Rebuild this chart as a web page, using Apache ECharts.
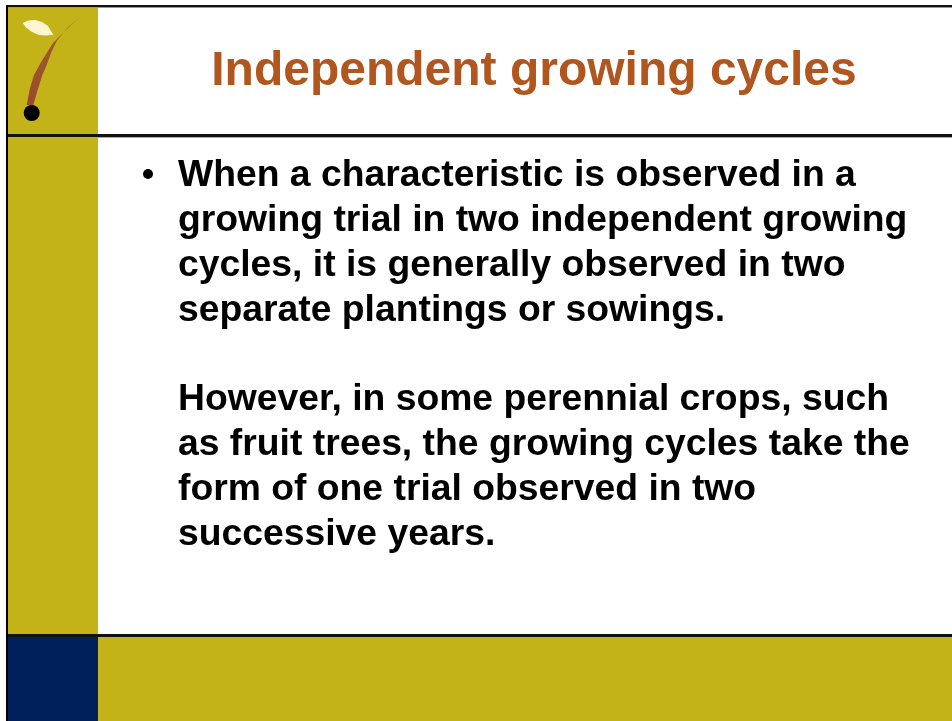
<!DOCTYPE html>
<html><head><meta charset="utf-8">
<script src="https://cdn.jsdelivr.net/npm/echarts@6/dist/echarts.min.js"></script>
<style>html,body{margin:0;padding:0;background:#fff}#c{width:952px;height:721px}</style>
</head><body><div id="c"></div>
<script>
const titleText = 'Independent growing cycles';
const paragraph1 = [
  'When a characteristic is observed in a',
  'growing trial in two independent growing',
  'cycles, it is generally observed in two',
  'separate plantings or sowings.'
];
const paragraph2 = [
  'However, in some perennial crops, such',
  'as fruit trees, the growing cycles take the',
  'form of one trial observed in two',
  'successive years.'
];
const OLIVE = '#C4B318', NAVY = '#00205B', RUST = '#B0561E';
const FAMILY = 'Liberation Sans';
const chart = echarts.init(document.getElementById('c'), null, {renderer: 'canvas'});
const g = [];
g.push({type:'rect', shape:{x:8,y:7,width:90,height:628}, style:{fill:OLIVE}});
g.push({type:'rect', shape:{x:8,y:636,width:90,height:85}, style:{fill:NAVY}});
g.push({type:'rect', shape:{x:98,y:636,width:854,height:85}, style:{fill:OLIVE}});
// borders
g.push({type:'rect', shape:{x:6,y:5,width:946,height:2}, style:{fill:'#111'}});
g.push({type:'rect', shape:{x:6,y:7,width:946,height:1}, style:{fill:'#999'}});
g.push({type:'rect', shape:{x:6,y:5,width:2,height:716}, style:{fill:'#000'}});
g.push({type:'rect', shape:{x:8,y:134,width:944,height:3}, style:{fill:'#111'}});
g.push({type:'rect', shape:{x:8,y:137,width:944,height:1}, style:{fill:'#aaa'}});
g.push({type:'rect', shape:{x:8,y:634,width:944,height:3}, style:{fill:'#111'}});
// logo: curved stroke as polygon
g.push({type:'polygon', shape:{points:[
  [85,13],[70,26],[53,43],[41.7,61],[34,75],[30,88],[26.7,105],
  [33.3,105],[38.3,88],[42,76],[46.7,65],[51,53],[56.7,41],[68,27]
]}, style:{fill:{type:'linear',x:0,y:0,x2:0,y2:1,colorStops:[{offset:0,color:'#A8901E'},{offset:0.3,color:'#9C5A2A'},{offset:1,color:'#9A4A2C'}]}}});
g.push({type:'polygon', shape:{points:[[22.7,23],[28,20.5],[35,20],[42,22],[48,26],[53.3,34.7],[46,35.5],[39,35],[32,32],[26,27.5]]}, style:{fill:'#FFF6D0'}});
g.push({type:'circle', shape:{cx:31.7,cy:113,r:8}, style:{fill:'#000'}});
// title
g.push({type:'text', style:{text:titleText, x:534, y:72, align:'center', verticalAlign:'middle', fill:RUST, fontFamily:FAMILY, fontWeight:'bold', fontSize:48}});
// bullet
g.push({type:'circle', shape:{cx:148,cy:174,r:5}, style:{fill:'#000'}});
const lineGap = 44.8;
paragraph1.forEach((t,i)=>g.push({type:'text', style:{text:t, x:178, y:176+i*lineGap, verticalAlign:'middle', fill:'#000', fontFamily:FAMILY, fontWeight:'bold', fontSize:37.3}}));
paragraph2.forEach((t,i)=>g.push({type:'text', style:{text:t, x:178, y:176+(i+5)*lineGap, verticalAlign:'middle', fill:'#000', fontFamily:FAMILY, fontWeight:'bold', fontSize:37.3}}));
chart.setOption({animation:false, graphic:g});
</script></body></html>
